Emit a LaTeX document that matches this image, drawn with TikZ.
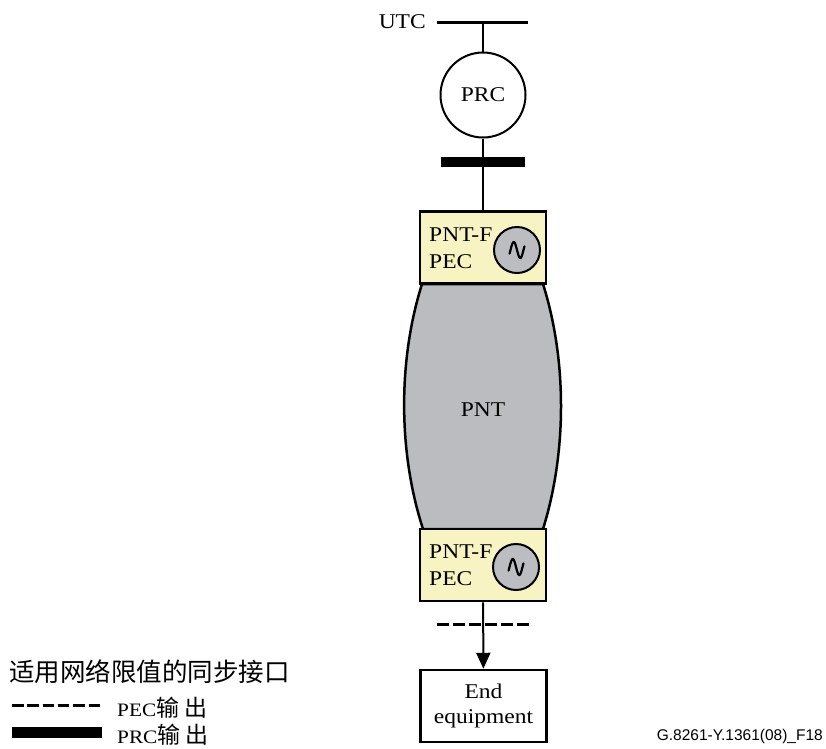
\documentclass[tikz,border=0pt]{standalone}
\usepackage{fontspec}
\setmainfont[FakeStretch=1.12]{Liberation Serif}
\newfontfamily\cjk{Noto Sans CJK SC}
\newfontfamily\arialfont{Liberation Sans}
\usetikzlibrary{arrows.meta}
\definecolor{boxyellow}{HTML}{F7F3C3}
\definecolor{pntgray}{HTML}{BBBCC0}
\definecolor{clockgray}{HTML}{BCBDC1}
\tikzset{
  lbl/.style={font=\fontsize{21}{25}\selectfont, inner sep=0},
  pntfbox/.style={draw, line width=2.5, fill=boxyellow, minimum width=126, minimum height=72, inner sep=0},
  clock/.style={circle, draw, line width=2, fill=clockgray, minimum size=46, inner sep=0},
  wire/.style={line width=2},
  prcbar/.style={line width=10},
  pecdash/.style={line width=3, dash pattern=on 12 off 4},
  tilde/.style={line width=2.2, line cap=round, line join=round}
}
\begin{document}
\begin{tikzpicture}[x=1pt,y=-1pt]
\useasboundingbox (0,0) rectangle (826,748);
% UTC
\node[lbl, anchor=east] (utc) at (426,22) {UTC};
\coordinate (utcL) at (437,22);
\coordinate (utcR) at (528,22);
\coordinate (utcM) at (483,22);
\draw[line width=3] (utcL) -- (utcR);
% PRC
\node[circle, draw, line width=2, minimum size=85, inner sep=0, lbl] (prc) at (483,95) {PRC};
\draw[wire] (utcM) -- (prc);
% PNT cloud
\coordinate (pTL) at (422,284);
\coordinate (pBL) at (423,529);
\coordinate (pBR) at (543,529);
\coordinate (pTR) at (543,284);
\draw[line width=2.5, fill=pntgray] (pTL) .. controls (398,360) and (398,452) .. (pBL) -- (pBR) .. controls (567,452) and (567,360) .. (pTR) -- cycle;
\node[lbl] (pnt) at (483,410) {PNT};
% boxes
\node[pntfbox] (f1) at (483,247.5) {};
\node[pntfbox] (f2) at (483,565) {};
\node[lbl, anchor=base west] (f1a) at (429,241) {PNT-F};
\node[lbl, anchor=base west] (f1b) at (429,268) {PEC};
\node[lbl, anchor=base west] (f2a) at (429,558) {PNT-F};
\node[lbl, anchor=base west] (f2b) at (429,585) {PEC};
\node[clock] (c1) at (517,250) {};
\node[clock] (c2) at (516,567) {};
\draw[tilde, shift={(c1.center)}] plot[domain=-1.15:1.15, samples=40, smooth] ({6.5*\x}, {8*sin(180*\x)});
\draw[tilde, shift={(c2.center)}] plot[domain=-1.15:1.15, samples=40, smooth] ({6.5*\x}, {8*sin(180*\x)});
% PRC to box
\draw[wire] (prc) -- (f1);
\coordinate (barL) at (441,162);
\coordinate (barR) at (525,162);
\draw[prcbar] (barL) -- (barR);
% end equipment
\node[draw, line width=2.5, minimum width=126, minimum height=72, inner sep=0, align=center, lbl] (eq) at (483.5,706) {End\\equipment};
\draw[wire, -{Triangle[length=16pt,width=14pt]}] (f2) -- (eq);
\coordinate (dL) at (437,624);
\coordinate (dR) at (529,624);
\draw[pecdash] (dL) -- (dR);
% legend
\node[anchor=west, inner sep=0, font=\cjk\fontsize{25.5}{27}\selectfont] (lt) at (9,672) {适用网络限值的同步接口};
\coordinate (l1L) at (12,705);
\coordinate (l1R) at (100,705);
\draw[line width=3, dash pattern=on 11.5 off 3.8] (l1L) -- (l1R);
\node[anchor=west, inner sep=0, font=\fontsize{19}{24}\selectfont] (l1t) at (117,708) {PEC{\cjk\fontsize{23}{24}\selectfont 输\hspace{5pt}出}};
\coordinate (l2L) at (12,732.5);
\coordinate (l2R) at (102,732.5);
\draw[line width=11] (l2L) -- (l2R);
\node[anchor=west, inner sep=0, font=\fontsize{19}{24}\selectfont] (l2t) at (117,734.5) {PRC{\cjk\fontsize{23}{24}\selectfont 输\hspace{5pt}出}};
% figure id
\node[anchor=base east, inner sep=0, font=\arialfont\fontsize{15.5}{18}\selectfont] (fid) at (823,740) {G.8261-Y.1361(08)\_F18};
\end{tikzpicture}
\end{document}
